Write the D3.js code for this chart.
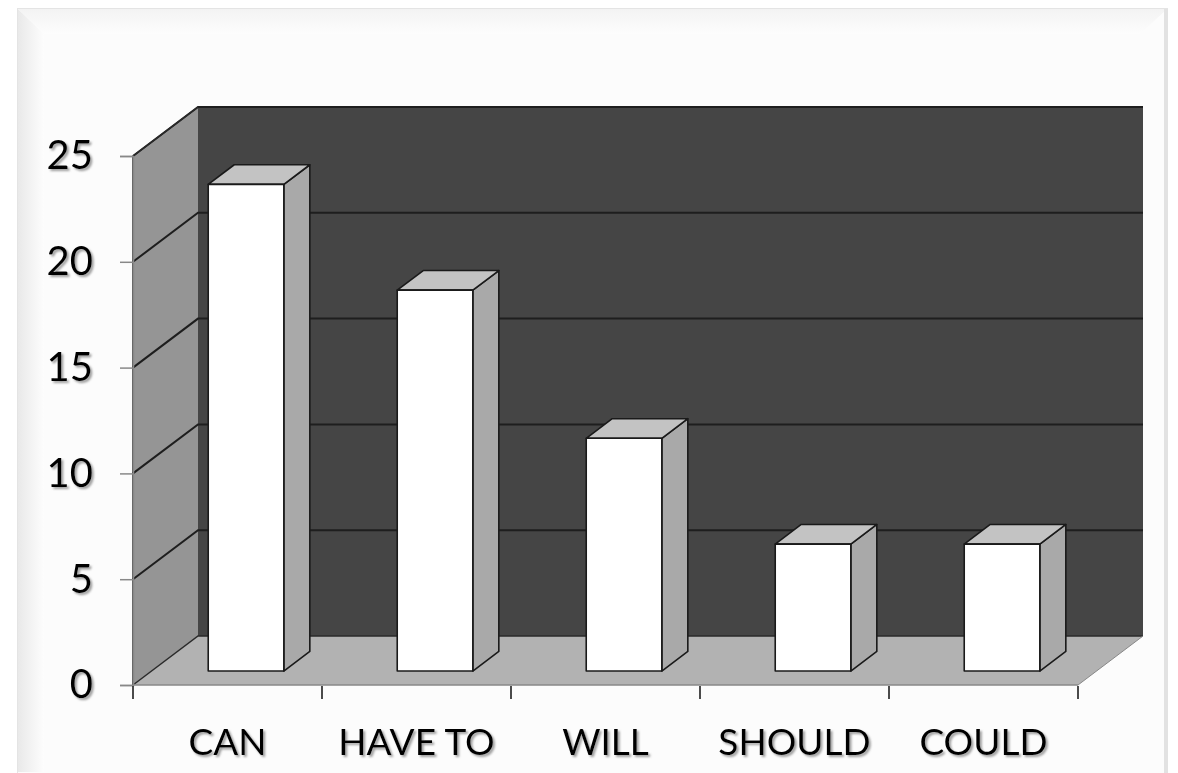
<!DOCTYPE html>
<html><head><meta charset="utf-8">
<script src="https://cdn.jsdelivr.net/npm/d3@7"></script>
<style>html,body{margin:0;padding:0;background:#fff;}svg{display:block;}</style>
</head><body>
<svg id="chart" width="1178" height="773"></svg>
<script>
const categories = ["CAN", "HAVE TO", "WILL", "SHOULD", "COULD"];
const values = [23, 18, 11, 6, 6];
const yTicks = [0, 5, 10, 15, 20, 25];

const svg = d3.select("#chart");
const W = 1178, H = 773;

// frame
const defs = svg.append("defs");
const f = defs.append("filter").attr("id", "shadow").attr("x", "-20%").attr("y", "-20%").attr("width", "140%").attr("height", "140%");
f.append("feDropShadow").attr("dx", 2).attr("dy", 2).attr("stdDeviation", 1.2).attr("flood-color", "#777").attr("flood-opacity", 0.7);

const gl = defs.append("linearGradient").attr("id", "bevL").attr("x1", 0).attr("x2", 1).attr("y1", 0).attr("y2", 0);
gl.append("stop").attr("offset", 0).attr("stop-color", "#e9e9e9");
gl.append("stop").attr("offset", 1).attr("stop-color", "#fdfdfd");
const gt = defs.append("linearGradient").attr("id", "bevT").attr("x1", 0).attr("x2", 0).attr("y1", 0).attr("y2", 1);
gt.append("stop").attr("offset", 0).attr("stop-color", "#f3f3f3");
gt.append("stop").attr("offset", 1).attr("stop-color", "#fdfdfd");

svg.append("rect").attr("x", 0).attr("y", 0).attr("width", W).attr("height", H).attr("fill", "#fff");
svg.append("rect").attr("x", 17.5).attr("y", 8.5).attr("width", 1150).attr("height", 770)
  .attr("fill", "#fcfcfc").attr("stroke", "#e4e4e4").attr("stroke-width", 1);
svg.append("path").attr("d", "M18,9 L44,34 L44,772 L18,772 Z").attr("fill", "url(#bevL)");
svg.append("path").attr("d", "M18,9 L1167,9 L1140,34 L44,34 Z").attr("fill", "url(#bevT)");
svg.append("rect").attr("x", 1164).attr("y", 9).attr("width", 4).attr("height", 764).attr("fill", "#e2e2e2");

// plot geometry
const x0 = 133, x1 = 1078, dX = 65, dY = 49;
const y = d3.scaleLinear().domain([0, 25]).range([685, 156]);
const x = d3.scaleBand().domain(categories).range([x0, x1]).paddingInner(0).paddingOuter(0);
const bw = x.bandwidth();

const g = svg.append("g");
const yTop = y(25), yBot = y(0);

// side wall
g.append("path").attr("d", `M${x0},${yBot} L${x0},${yTop} L${x0+dX},${yTop-dY} L${x0+dX},${yBot-dY} Z`)
  .attr("fill", "#959595");
// back wall
g.append("rect").attr("x", x0 + dX).attr("y", yTop - dY).attr("width", x1 - x0).attr("height", yBot - yTop)
  .attr("fill", "#454545");
// floor
g.append("path").attr("d", `M${x0},${yBot} L${x1},${yBot} L${x1+dX},${yBot-dY} L${x0+dX},${yBot-dY} Z`)
  .attr("fill", "#b2b2b2");

// gridlines
yTicks.forEach(t => {
  const yy = y(t);
  if (t > 0) {
    g.append("path").attr("d", `M${x0},${yy} L${x0+dX},${yy-dY} L${x1+dX},${yy-dY}`)
      .attr("fill", "none").attr("stroke", "#1e1e1e").attr("stroke-width", 2);
  }
});
// back wall bottom edge and floor outline
g.append("path").attr("d", `M${x0},${yBot} L${x0+dX},${yBot-dY} L${x1+dX},${yBot-dY}`)
  .attr("fill", "none").attr("stroke", "#2a2a2a").attr("stroke-width", 1.5);
g.append("path").attr("d", `M${x0},${yBot} L${x0},${yTop} L${x0+dX},${yTop-dY}`)
  .attr("fill", "none").attr("stroke", "#2a2a2a").attr("stroke-width", 1.5);
g.append("path").attr("d", `M${x1},${yBot} L${x1+dX},${yBot-dY}`)
  .attr("fill", "none").attr("stroke", "#888").attr("stroke-width", 1);

// bars
const fz = 0.285, bz = 0.685; // depth fractions
const fx = fz * dX, fy = fz * dY, sx = (bz - fz) * dX, sy = (bz - fz) * dY;
const bars = g.selectAll(".bar").data(categories.map((c, i) => ({ c, v: values[i] }))).enter().append("g");
bars.each(function(d) {
  const gg = d3.select(this);
  const left = x(d.c) + bw * 0.3 + fx, right = x(d.c) + bw * 0.7 + fx;
  const top = y(d.v) - fy, bot = y(0) - fy;
  const st = { stroke: "#1a1a1a", "stroke-width": 1.6, "stroke-linejoin": "round" };
  const side = gg.append("path").attr("d", `M${right},${bot} L${right},${top} L${right+sx},${top-sy} L${right+sx},${bot-sy} Z`).attr("fill", "#a9a9a9");
  const tp = gg.append("path").attr("d", `M${left},${top} L${left+sx},${top-sy} L${right+sx},${top-sy} L${right},${top} Z`).attr("fill", "#c3c3c3");
  const fr = gg.append("rect").attr("x", left).attr("y", top).attr("width", right - left).attr("height", bot - top).attr("fill", "#ffffff");
  [side, tp, fr].forEach(s => { for (const k in st) s.attr(k, st[k]); });
});

// y axis
const yAxis = d3.axisLeft(y).tickValues(yTicks).tickSize(13).tickPadding(27);
const ya = svg.append("g").attr("transform", `translate(${x0},0)`).call(yAxis);
ya.select(".domain").attr("stroke", "#888").attr("stroke-width", 1.5);
ya.selectAll(".tick line").attr("stroke", "#888").attr("stroke-width", 1.5);
ya.selectAll(".tick text").attr("font-family", "Lato, 'Open Sans', sans-serif").attr("font-size", 40)
  .attr("fill", "#000").attr("filter", "url(#shadow)");

// x axis
const xa = svg.append("g");
xa.append("line").attr("x1", x0).attr("x2", x1).attr("y1", yBot).attr("y2", yBot).attr("stroke", "#888").attr("stroke-width", 1.5);
const edges = categories.map(c => x(c)).concat([x1]);
xa.selectAll(".xt").data(edges).enter().append("line")
  .attr("x1", d => d).attr("x2", d => d).attr("y1", yBot + 1).attr("y2", yBot + 14)
  .attr("stroke", "#111").attr("stroke-width", 1.5);
xa.selectAll(".xl").data(categories).enter().append("text")
  .attr("x", d => x(d) + bw / 2).attr("y", 755)
  .attr("text-anchor", "middle")
  .attr("font-family", "Lato, 'Open Sans', sans-serif").attr("font-size", 37)
  .attr("fill", "#000").attr("filter", "url(#shadow)")
  .text(d => d);
</script>
</body></html>
